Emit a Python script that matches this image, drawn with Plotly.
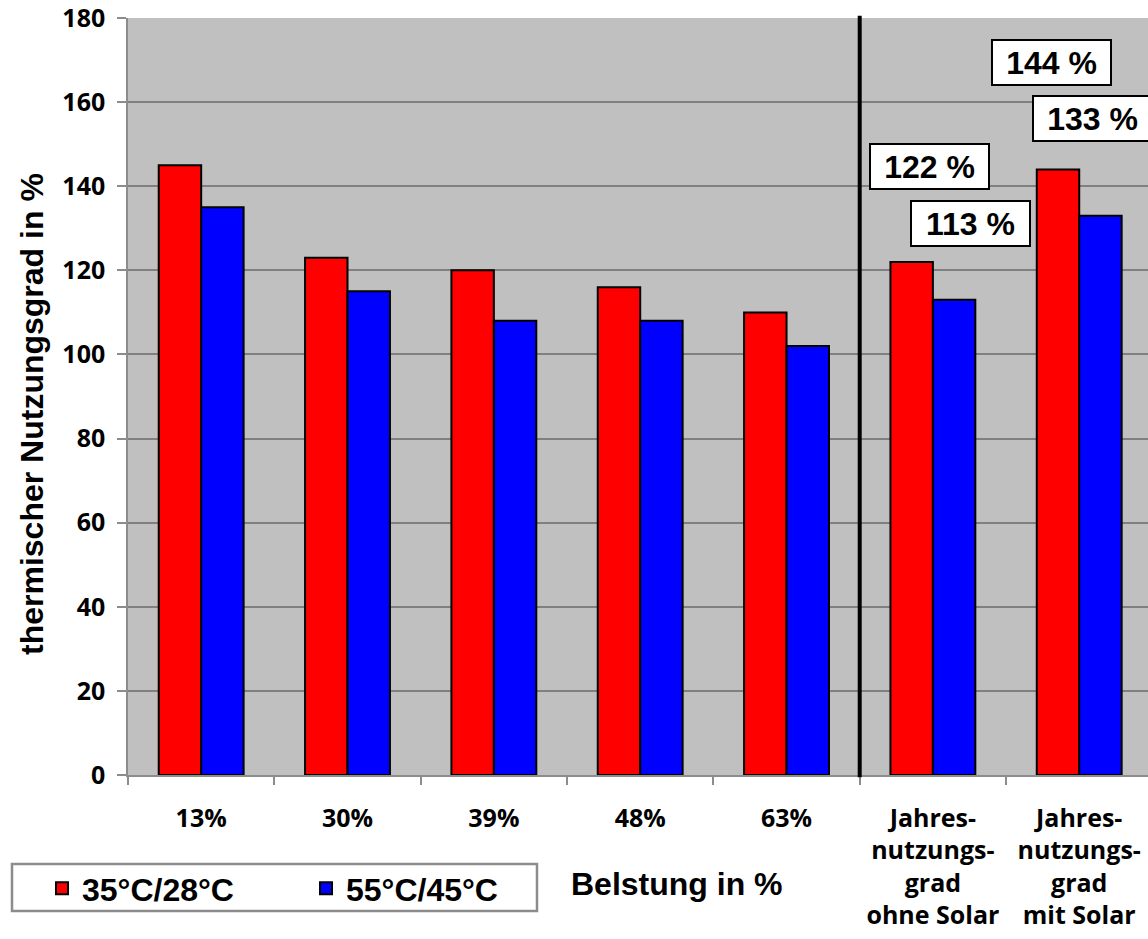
import plotly.graph_objects as go

# Load levels and the two annual values (with / without solar)
categories = [
    "13%", "30%", "39%", "48%", "63%",
    "Jahres-<br>nutzungs-<br>grad<br>ohne Solar",
    "Jahres-<br>nutzungs-<br>grad<br>mit Solar",
]
series_names = ["35°C/28°C", "55°C/45°C"]
values_35_28 = [145, 123, 120, 116, 110, 122, 144]
values_55_45 = [135, 115, 108, 108, 102, 113, 133]
y_ticks = [0, 20, 40, 60, 80, 100, 120, 140, 160, 180]

ARIAL = "Liberation Sans"
CALIBRI = "Open Sans"

W, H = 1148, 939
ML, MR, MT, MB = 128, 0, 18, 164
PW, PH = W - ML - MR, H - MT - MB


def px_x(px):
    return (px - ML) / PW


def px_y(py):
    return (H - MB - py) / PH


fig = go.Figure()
for name, vals, col in [
    (series_names[0], values_35_28, "#FF0000"),
    (series_names[1], values_55_45, "#0000FF"),
]:
    fig.add_trace(go.Bar(
        x=categories, y=vals, name=name,
        marker=dict(color=col, line=dict(color="black", width=2)),
    ))

# Value boxes for the annual figures (last two categories)
boxes = [
    (categories[6], -0.191, values_35_28[6], 169.5),
    (categories[6], 0.089, values_55_45[6], 156.0),
    (categories[5], -0.021, values_35_28[5], 144.7),
    (categories[5], 0.255, values_55_45[5], 131.2),
]
annotations = []
for cat, dx, v, ypos in boxes:
    idx = categories.index(cat)
    annotations.append(dict(
        x=idx + dx, y=ypos, xref="x", yref="y",
        text=f"{v} %", showarrow=False,
        font=dict(family=ARIAL, size=32, color="black", weight="bold"),
        bgcolor="white", bordercolor="black", borderwidth=2, borderpad=1,
        width=115, height=41, xanchor="center", yanchor="middle",
    ))

# Axis titles
annotations.append(dict(
    x=px_x(32), y=px_y(414), xref="paper", yref="paper",
    text="thermischer Nutzungsgrad in %", textangle=-90, showarrow=False,
    font=dict(family=ARIAL, size=32, color="black", weight="bold"),
    xanchor="center", yanchor="middle",
))
annotations.append(dict(
    x=px_x(677), y=px_y(884), xref="paper", yref="paper",
    text="Belstung in %", showarrow=False,
    font=dict(family=ARIAL, size=32, color="black", weight="bold"),
    xanchor="center", yanchor="middle",
))

shapes = [
    # separator between load levels and annual values
    dict(type="line", xref="x", yref="paper", x0=4.5, x1=4.5, y0=-0.003, y1=1.003,
         line=dict(color="black", width=4), layer="above"),
    # legend frame
    dict(type="rect", xref="paper", yref="paper",
         x0=px_x(12), x1=px_x(537), y0=px_y(911), y1=px_y(864),
         line=dict(color="#8C8C8C", width=2.5), fillcolor="rgba(0,0,0,0)"),
]

fig.update_layout(
    width=W, height=H, autosize=False,
    margin=dict(l=ML, r=MR, t=MT, b=MB, pad=0),
    paper_bgcolor="white", plot_bgcolor="#C0C0C0",
    barmode="group", bargap=0.42, bargroupgap=0,
    showlegend=True,
    legend=dict(
        orientation="h", x=px_x(42), y=px_y(861), xanchor="left", yanchor="top",
        font=dict(family=ARIAL, size=32, color="black", weight="bold"),
        bgcolor="rgba(0,0,0,0)", borderwidth=0, entrywidth=219,
    ),
    xaxis=dict(
        type="category", range=[-0.5, 6.47], tickson="boundaries",
        ticks="outside", ticklen=8, tickwidth=1.5, tickcolor="#8C8C8C",
        showline=True, linecolor="#8C8C8C", linewidth=1.5, showgrid=False,
        tickfont=dict(family=CALIBRI, size=25, color="black", weight="bold"),
        ticklabelstandoff=20, ticklabeloverflow="allow",
        fixedrange=True,
    ),
    yaxis=dict(
        range=[0, 180], tickvals=y_ticks,
        ticks="outside", ticklen=9, tickwidth=1.5, tickcolor="#8C8C8C",
        showline=True, linecolor="#8C8C8C", linewidth=1.5,
        showgrid=True, gridcolor="#808080", gridwidth=1.5, zeroline=False,
        tickfont=dict(family=CALIBRI, size=25, color="black", weight="bold"),
        ticklabelstandoff=7, ticklabeloverflow="allow",
    ),
    annotations=annotations,
    shapes=shapes,
)

fig.write_html("out.html")
